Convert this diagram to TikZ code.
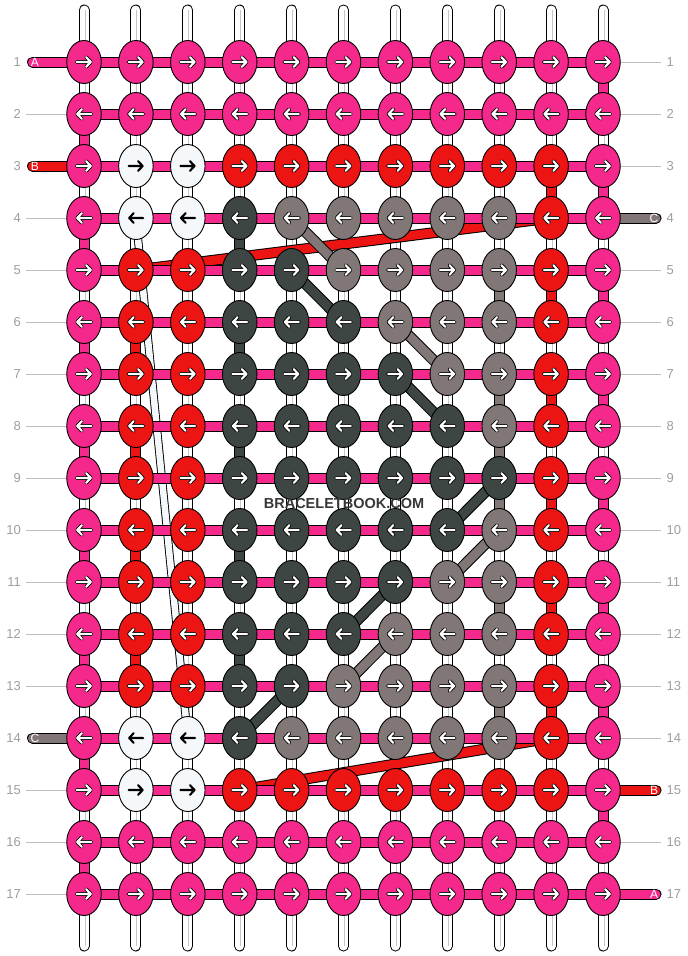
\documentclass[tikz,border=0pt]{standalone}
\usepackage{fontspec}
\setmainfont{Liberation Sans}
\usetikzlibrary{shapes.geometric}
\definecolor{kP}{RGB}{245,40,140}
\definecolor{kR}{RGB}{237,20,20}
\definecolor{kD}{RGB}{62,70,67}
\definecolor{kG}{RGB}{129,119,119}
\definecolor{kW}{RGB}{245,248,250}
\colorlet{aP}{white}\colorlet{aR}{white}\colorlet{aD}{white}\colorlet{aG}{white}\colorlet{aW}{black}
\colorlet{oP}{black}\colorlet{oR}{black}\colorlet{oD}{black}\colorlet{oG}{black}\colorlet{oW}{kW}
\definecolor{numgrey}{RGB}{158,158,158}
\definecolor{linegrey}{RGB}{190,190,190}
\definecolor{wmark}{RGB}{55,55,55}
\tikzset{
  knot/.style={ellipse, draw=black, line width=0.9pt, minimum width=34.5pt, minimum height=43pt, inner sep=0pt},
  thread/.style={line width=9pt, draw=#1, preaction={draw=black, line width=11pt}},
  stubthread/.style={line width=9pt, draw=#1, line cap=round, preaction={draw=black, line width=11pt, line cap=round}},
  thinthread/.style={line width=6.5pt, draw=#1, preaction={draw=black, line width=8.3pt}},
  warp/.style={line width=9pt, draw=white, line cap=round,
     preaction={draw=black, line width=11pt, line cap=round},
     postaction={draw=black!22, line width=1pt, line cap=butt, transform canvas={xshift=1pt}}},
  labelline/.style={draw=linegrey, line width=1pt},
  num/.style={font=\fontsize{13}{13}\selectfont, text=numgrey, inner sep=0pt},
  stubtext/.style={font=\fontsize{12}{12}\selectfont, text=white, inner sep=0pt},
  arrowback/.style={draw=#1, line width=3.8pt, line cap=round, line join=round},
  arrowfront/.style={draw=#1, line width=2.1pt, line cap=round, line join=round}
}
\begin{document}
\begin{tikzpicture}[x=1pt,y=-1pt]
\useasboundingbox (0,0) rectangle (688,956);
% grid coordinates
\foreach \ri in {1,...,17}{
  \foreach \ci in {1,...,11}{
    \pgfmathsetmacro\X{84+(\ci-1)*51.9}
    \pgfmathsetmacro\Y{62+(\ri-1)*52}
    \coordinate (p-\ri-\ci) at (\X,\Y);
  }
}
% warps
\foreach \ci in {1,...,11}{
  \pgfmathsetmacro\X{84+(\ci-1)*51.9}
  \coordinate (wt-\ci) at (\X,10);
  \coordinate (wb-\ci) at (\X,946);
  \draw[warp] (wt-\ci) -- (wb-\ci);
}
% carried threads
\draw[thinthread=kW] (p-4-2) -- (p-14-3);
\draw[thread=kR] (p-4-10) -- (p-5-2);
\draw[thread=kR] (p-14-10) -- (p-15-4);
\foreach \a/\b in {5-5/6-6, 7-7/8-8, 9-9/10-8, 11-7/12-6, 13-5/14-4}
  \draw[thread=kD] (p-\a) -- (p-\b);
\foreach \a/\b in {4-5/5-6, 6-7/7-8, 10-9/11-8, 12-7/13-6, 8-9/10-9}
  \draw[thread=kG] (p-\a) -- (p-\b);
% horizontal weft
\foreach \ri in {1,...,17}
  \draw[thread=kP] (p-\ri-1) -- (p-\ri-11);
% vertical turns
\foreach \ri in {1,3,...,15}{
  \pgfmathtruncatemacro\s{\ri+1}
  \draw[thread=kP] (p-\ri-11) -- (p-\s-11);
}
\foreach \ri in {2,4,...,16}{
  \pgfmathtruncatemacro\s{\ri+1}
  \draw[thread=kP] (p-\ri-1) -- (p-\s-1);
}
\foreach \ri in {3,5,...,13}{
  \pgfmathtruncatemacro\s{\ri+1}
  \draw[thread=kR] (p-\ri-10) -- (p-\s-10);
}
\foreach \ri in {6,8,10,12}{
  \pgfmathtruncatemacro\s{\ri+1}
  \draw[thread=kR] (p-\ri-2) -- (p-\s-2);
}
\foreach \ri in {4,6,...,12}{
  \pgfmathtruncatemacro\s{\ri+1}
  \draw[thread=kD] (p-\ri-4) -- (p-\s-4);
}
\foreach \ri in {5,7,11,13}{
  \pgfmathtruncatemacro\s{\ri+1}
  \draw[thread=kG] (p-\ri-9) -- (p-\s-9);
}
% label lines
\foreach \ri in {2,4,5,6,7,8,9,10,11,12,13,15,16,17}{
  \pgfmathsetmacro\Y{62+(\ri-1)*52}
  \coordinate (lL-\ri) at (26,\Y);
  \draw[labelline] (lL-\ri) -- (p-\ri-1);
}
\foreach \ri in {1,2,3,5,6,7,8,9,10,11,12,13,14,16}{
  \pgfmathsetmacro\Y{62+(\ri-1)*52}
  \coordinate (lR-\ri) at (661,\Y);
  \draw[labelline] (lR-\ri) -- (p-\ri-11);
}
% stubs
\coordinate (sL-1) at (32.5,62);
\coordinate (sL-3) at (32.5,166);
\coordinate (sL-14) at (32.5,738);
\coordinate (sR-4) at (656,218);
\coordinate (sR-15) at (656,790);
\coordinate (sR-17) at (656,894);
\draw[stubthread=kP] (sL-1) -- (p-1-1);
\draw[stubthread=kR] (sL-3) -- (p-3-1);
\draw[stubthread=kG] (sL-14) -- (p-14-1);
\draw[stubthread=kG] (sR-4) -- (p-4-11);
\draw[stubthread=kR] (sR-15) -- (p-15-11);
\draw[stubthread=kP] (sR-17) -- (p-17-11);
\node[stubtext] (tL-1) at (35,62) {A};
\node[stubtext] (tL-3) at (35,166) {B};
\node[stubtext] (tL-14) at (35,738) {C};
\node[stubtext] (tR-4) at (654,218) {C};
\node[stubtext] (tR-15) at (654,790) {B};
\node[stubtext] (tR-17) at (654,894) {A};
% row numbers
\foreach \ri in {1,...,17}{
  \pgfmathsetmacro\Y{62+(\ri-1)*52}
  \node[num, anchor=east] (nL-\ri) at (21,\Y) {\ri};
  \node[num, anchor=west] (nR-\ri) at (666.5,\Y) {\ri};
}
% knots
\foreach \ri/\row in {
  1/{P,P,P,P,P,P,P,P,P,P,P},
  2/{P,P,P,P,P,P,P,P,P,P,P},
  3/{P,W,W,R,R,R,R,R,R,R,P},
  4/{P,W,W,D,G,G,G,G,G,R,P},
  5/{P,R,R,D,D,G,G,G,G,R,P},
  6/{P,R,R,D,D,D,G,G,G,R,P},
  7/{P,R,R,D,D,D,D,G,G,R,P},
  8/{P,R,R,D,D,D,D,D,G,R,P},
  9/{P,R,R,D,D,D,D,D,D,R,P},
  10/{P,R,R,D,D,D,D,D,G,R,P},
  11/{P,R,R,D,D,D,D,G,G,R,P},
  12/{P,R,R,D,D,D,G,G,G,R,P},
  13/{P,R,R,D,D,G,G,G,G,R,P},
  14/{P,W,W,D,G,G,G,G,G,R,P},
  15/{P,W,W,R,R,R,R,R,R,R,P},
  16/{P,P,P,P,P,P,P,P,P,P,P},
  17/{P,P,P,P,P,P,P,P,P,P,P}}{
  \pgfmathsetmacro\dd{ifthenelse(mod(\ri,2)==1,1,-1)}
  \foreach \k [count=\ci] in \row {
    \node[knot, fill=k\k] (k-\ri-\ci) at (p-\ri-\ci) {};
    \begin{scope}[shift={(k-\ri-\ci.center)}, xscale=\dd]
      \draw[arrowback=o\k] (-7.3,0) -- (6.8,0) (2.2,-4.8) -- (6.8,0) -- (2.2,4.8);
      \draw[arrowfront=a\k] (-7.3,0) -- (6.8,0) (2.2,-4.8) -- (6.8,0) -- (2.2,4.8);
    \end{scope}
  }
}
% watermark
\node[font=\bfseries\fontsize{14.5}{14.5}\selectfont, text=wmark, inner sep=0pt] (wm) at (344,504) {BRACELETBOOK.COM};
\end{tikzpicture}
\end{document}
